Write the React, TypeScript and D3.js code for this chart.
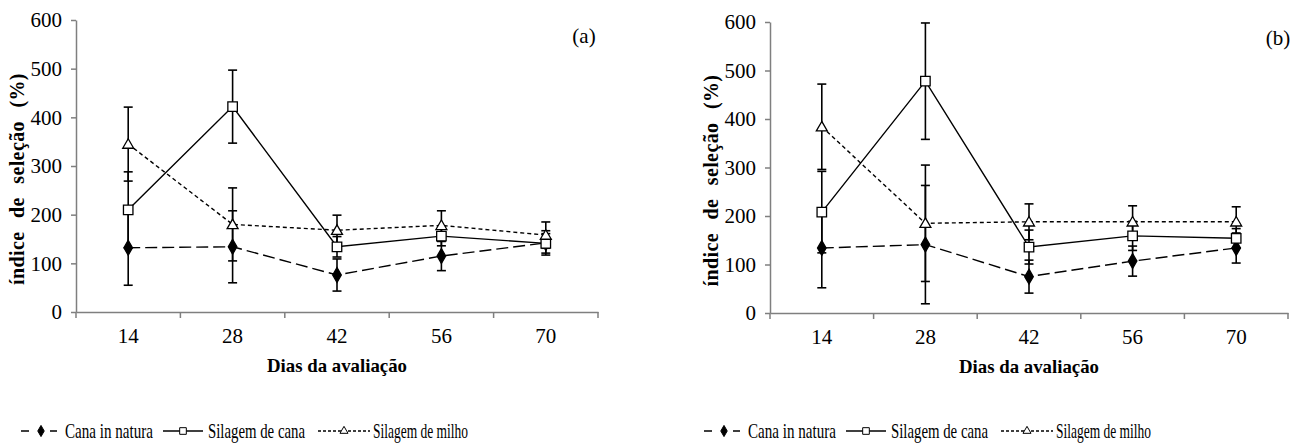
import React, { useEffect, useRef } from 'react';
import * as d3 from 'd3';

// avaliação days and y ticks
const days = ['14', '28', '42', '56', '70'];
const yTicks = [0, 100, 200, 300, 400, 500, 600];
const seriesNames = ['Cana in natura', 'Silagem de cana', 'Silagem de milho'];

// panel (a)
const canaA = [132, 134, 76, 115, 142];
const canaAErr = [77, 74, 33, 30, 25];
const silCanaA = [210, 422, 134, 156, 141];
const silCanaAErr = [78, 75, 21, 20, 20];
const milhoA = [345, 180, 168, 178, 158];
const milhoAErr = [76, 75, 31, 30, 27];

// panel (b)
const canaB = [134, 141, 75, 107, 134];
const canaBErr = [82, 122, 34, 31, 31];
const silCanaB = [208, 478, 136, 159, 154];
const silCanaBErr = [84, 120, 35, 30, 20];
const milhoB = [384, 185, 188, 188, 188];
const milhoBErr = [88, 120, 37, 33, 31];

const W = 1296;
const H = 444;
const AXIS = '#7f7f7f';
const FONT = '"Liberation Serif", "Times New Roman", serif';

const styles = [
	{ dash: '12,5', symbol: d3.symbolDiamond, fill: '#000', size: 64, lsize: 36 },
	{ dash: null, symbol: d3.symbolSquare, fill: '#fff', size: 90, lsize: 44 },
	{ dash: '4,3', symbol: d3.symbolTriangle, fill: '#fff', size: 52, lsize: 28 }
];

const panels = [
	{
		tag: '(a)', left: 76, right: 598, top: 20, bottom: 312, tagX: 584, legendShift: 0,
		series: [[canaA, canaAErr], [silCanaA, silCanaAErr], [milhoA, milhoAErr]]
	},
	{
		tag: '(b)', left: 770, right: 1288, top: 22, bottom: 313, tagX: 1278, legendShift: 683,
		series: [[canaB, canaBErr], [silCanaB, silCanaBErr], [milhoB, milhoBErr]]
	}
];

// legend key layout (left panel; right panel shifted)
const legendKeys = [
	{ x0: 21, x1: 57, mx: 41, tx: 65, tw: 88, dash: '8,21' },
	{ x0: 163, x1: 203, mx: 183, tx: 208, tw: 97, dash: null },
	{ x0: 318, x1: 370, mx: 344, tx: 373, tw: 95, dash: '3,2' }
];

const drawPanel = (svg, p) => {
	const x = d3.scaleBand().domain(days).range([p.left, p.right]);
	const y = d3.scaleLinear().domain([0, 600]).range([p.bottom, p.top]);
	const cx = (d) => x(d) + x.bandwidth() / 2;
	const g = svg.append('g');

	// y axis
	const ya = g.append('g').attr('transform', `translate(${ p.left },0)`)
		.call(d3.axisLeft(y).tickValues(yTicks).tickSize(5).tickSizeOuter(0).tickPadding(9));
	ya.select('.domain').attr('stroke', AXIS).attr('stroke-width', 1.5);
	ya.selectAll('.tick line').attr('stroke', AXIS).attr('stroke-width', 1.5);
	ya.selectAll('.tick text').attr('font-family', FONT).attr('font-size', 21).attr('fill', '#000');

	// x axis: labels at centres, ticks at band edges
	const xa = g.append('g').attr('transform', `translate(0,${ p.bottom })`)
		.call(d3.axisBottom(x).tickSize(0).tickPadding(16));
	xa.select('.domain').attr('stroke', AXIS).attr('stroke-width', 1.5);
	xa.selectAll('.tick text').attr('font-family', FONT).attr('font-size', 21).attr('fill', '#000');
	const edges = days.map((d) => x(d)).concat([p.right]);
	g.selectAll('.edge').data(edges)
		.enter()
		.append('line')
		.attr('x1', (d) => d).attr('x2', (d) => d)
		.attr('y1', p.bottom).attr('y2', p.bottom + 6)
		.attr('stroke', AXIS).attr('stroke-width', 1.5);

	// titles
	g.append('text').attr('x', (p.left + p.right) / 2).attr('y', p.bottom + 60)
		.attr('text-anchor', 'middle').attr('font-family', FONT).attr('font-weight', 'bold')
		.attr('font-size', 19).attr('textLength', 140).attr('lengthAdjust', 'spacingAndGlyphs')
		.text('Dias da avaliação');
	g.append('text').attr('transform', `translate(${ p.left - 52 },${ (p.top + p.bottom) / 2 + 13 }) rotate(-90)`)
		.attr('text-anchor', 'middle').attr('font-family', FONT).attr('font-weight', 'bold')
		.attr('font-size', 20).attr('word-spacing', 8).attr('letter-spacing', 0.4)
		.text('índice de seleção (%)');
	g.append('text').attr('x', p.tagX).attr('y', p.top + 23).attr('text-anchor', 'middle')
		.attr('font-family', FONT).attr('font-size', 21).text(p.tag);

	// lines
	p.series.forEach(([vals], i) => {
		const line = d3.line().x((d, k) => cx(days[k])).y((d) => y(d));
		g.append('path').attr('d', line(vals)).attr('fill', 'none')
			.attr('stroke', '#000').attr('stroke-width', 1.4)
			.attr('stroke-dasharray', styles[i].dash);
	});

	// error bars
	p.series.forEach(([vals, errs]) => {
		const eb = g.append('g').attr('stroke', '#000').attr('stroke-width', 1.6);
		vals.forEach((v, k) => {
			const xc = cx(days[k]);
			const y0 = y(v - errs[k]);
			const y1 = y(v + errs[k]);
			eb.append('line').attr('x1', xc).attr('x2', xc).attr('y1', y0).attr('y2', y1);
			eb.append('line').attr('x1', xc - 4.5).attr('x2', xc + 4.5).attr('y1', y0).attr('y2', y0);
			eb.append('line').attr('x1', xc - 4.5).attr('x2', xc + 4.5).attr('y1', y1).attr('y2', y1);
		});
	});

	// markers
	p.series.forEach(([vals], i) => {
		const s = styles[i];
		const sym = d3.symbol().type(s.symbol).size(s.size);
		g.selectAll(null).data(vals)
			.enter()
			.append('path')
			.attr('d', sym())
			.attr('transform', (d, k) => `translate(${ cx(days[k]) },${ y(d) + (i === 2 ? 1 : 0) })`)
			.attr('fill', s.fill).attr('stroke', '#000').attr('stroke-width', 1.3);
	});

	// legend
	const ly = 431;
	legendKeys.forEach((k, i) => {
		const s = styles[i];
		const ox = p.legendShift;
		g.append('line').attr('x1', k.x0 + ox).attr('x2', k.x1 + ox).attr('y1', ly).attr('y2', ly)
			.attr('stroke', '#000').attr('stroke-width', 1.6).attr('stroke-dasharray', k.dash);
		g.append('path').attr('d', d3.symbol().type(s.symbol).size(s.lsize)())
			.attr('transform', `translate(${ k.mx + ox },${ ly })`)
			.attr('fill', s.fill).attr('stroke', '#000').attr('stroke-width', 1);
		g.append('text').attr('x', k.tx + ox).attr('y', ly + 7).attr('font-family', FONT)
			.attr('font-size', 22).attr('textLength', k.tw).attr('lengthAdjust', 'spacingAndGlyphs')
			.text(seriesNames[i]);
	});
};

const App = () => {
	const ref = useRef(null);

	useEffect(() => {
		const svg = d3.select(ref.current);
		svg.selectAll('*').remove();
		panels.forEach((p) => drawPanel(svg, p));
	}, []);

	return (
		<svg ref={ ref } width={ W } height={ H }
			style={ { position: 'absolute', left: 0, top: 0, background: '#fff' } }/>
	);
};

export default App;
